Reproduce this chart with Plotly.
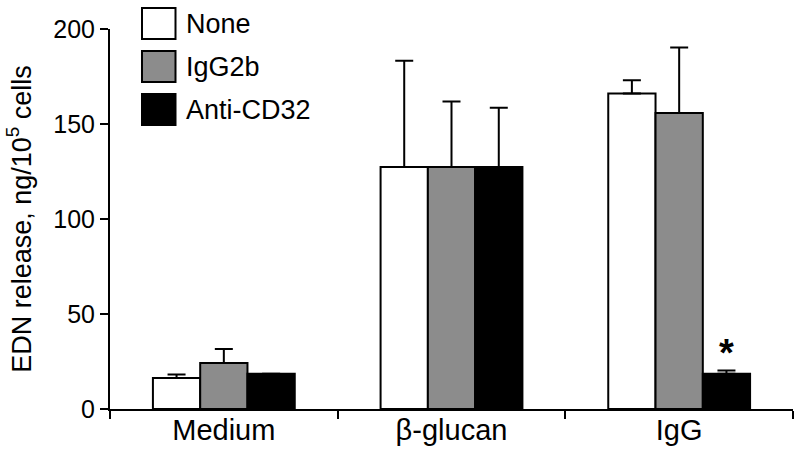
import plotly.graph_objects as go

categories = ["Medium", "β-glucan", "IgG"]
series_names = ["None", "IgG2b", "Anti-CD32"]
none_vals = [16.3, 127.4, 166.0]
none_err = [1.8, 55.9, 7.0]
igg2b_vals = [24.2, 127.4, 155.8]
igg2b_err = [7.4, 34.5, 34.5]
anti_vals = [18.6, 127.4, 18.6]
anti_err = [0.0, 31.2, 1.7]
colors = ["#ffffff", "#8c8c8c", "#000000"]
y_ticks = [0, 50, 100, 150, 200]

FONT = "Liberation Sans, Arial, sans-serif"
W, H = 800, 456
L, R, T, B = 110, 7, 29, 47
PW, PH = W - L - R, H - T - B


def px_x(p):
    return (p - L) / PW


def px_y(p):
    return (H - B - p) / PH


fig = go.Figure()
vals = [none_vals, igg2b_vals, anti_vals]
errs = [none_err, igg2b_err, anti_err]
for name, v, e, c in zip(series_names, vals, errs, colors):
    fig.add_trace(go.Bar(
        x=categories, y=v, name=name,
        marker=dict(color=c, line=dict(color="black", width=2)),
        error_y=dict(type="data", symmetric=False, array=e,
                     arrayminus=[0] * len(e), color="black",
                     thickness=2, width=9),
        showlegend=False,
    ))

# significance marker above IgG / Anti-CD32
fig.add_annotation(x="IgG", y=anti_vals[2] + anti_err[2], xshift=47,
                   text="<b>*</b>", showarrow=False, yanchor="bottom",
                   yshift=-6,
                   font=dict(size=38, color="black", family=FONT))

# manual legend (large boxes)
box_tops = [8, 51, 94]
for name, c, top in zip(series_names, colors, box_tops):
    fig.add_shape(type="rect", xref="paper", yref="paper",
                  x0=px_x(142), x1=px_x(175.5),
                  y0=px_y(top + 31), y1=px_y(top),
                  fillcolor=c, line=dict(color="black", width=2))
    fig.add_annotation(xref="paper", yref="paper", x=px_x(184),
                       y=px_y(top + 16), text=name, showarrow=False,
                       xanchor="left", yanchor="middle",
                       font=dict(size=27, color="black", family=FONT))

fig.update_layout(
    width=W, height=H,
    margin=dict(l=L, r=R, t=T, b=B, autoexpand=False),
    paper_bgcolor="white", plot_bgcolor="white",
    barmode="group", bargap=0.377, bargroupgap=0,
    font=dict(family=FONT, color="black"),
    xaxis=dict(type="category", showline=True, linewidth=2, linecolor="black",
               ticks="outside", tickson="boundaries", ticklen=8, tickwidth=2,
               tickcolor="black", showgrid=False, zeroline=False,
               automargin=False, ticklabelstandoff=-6,
               tickfont=dict(size=29, family=FONT, color="black")),
    yaxis=dict(range=[0, 200], tickvals=y_ticks, showline=True, linewidth=2,
               linecolor="black", ticks="outside", ticklen=8, tickwidth=2,
               tickcolor="black", showgrid=False, zeroline=False,
               automargin=False,
               tickfont=dict(size=25, family=FONT, color="black"),
               title=dict(text="EDN release, ng/10<sup>5</sup> cells",
                          font=dict(size=27, family=FONT, color="black"),
                          standoff=14)),
)

fig.write_html(
    "out.html",
    config={"displayModeBar": False},
    post_script="document.body.style.margin='0';document.body.style.overflow='hidden';",
)
